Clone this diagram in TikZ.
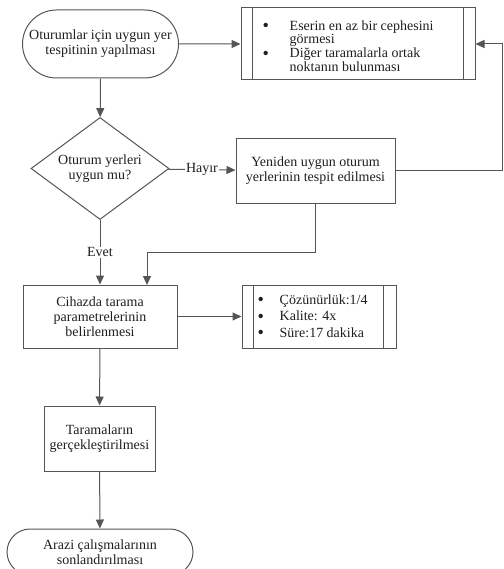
\documentclass[tikz,border=0pt]{standalone}
\usepackage{fontspec}
\setmainfont{Liberation Serif}
\usetikzlibrary{shapes.misc,shapes.geometric,arrows.meta,calc}
\definecolor{ln}{HTML}{555555}
\definecolor{tx}{HTML}{1E1E1E}
\newcommand{\blt}{\raisebox{-1.5pt}{\scalebox{1.3}{•}}}
\begin{document}
\begin{tikzpicture}[x=1pt,y=-1pt,
  every node/.style={text=tx, font=\fontsize{14}{15}\selectfont, inner sep=0pt},
  shapebase/.style={draw=ln, line width=1pt, align=center},
  procbox/.style={shapebase, rectangle},
  termbox/.style={shapebase, rounded rectangle},
  decbox/.style={shapebase, diamond, aspect=1.35},
  conn/.style={draw=ln, line width=1pt, -{Triangle[length=9pt,width=8pt]}},
  plain/.style={draw=ln, line width=1pt},
  lbl/.style={fill=white, inner sep=1pt}
]
\useasboundingbox (0,0) rectangle (503,569);

\node[termbox, minimum width=156pt, minimum height=68pt] (start) at (100.5,44) {Oturumlar için uygun yer\\tespitinin yapılması};

\node[procbox, minimum width=234pt, minimum height=72pt] (box1) at (358,44) {};
\draw[plain] ([xshift=12pt]box1.north west) -- ([xshift=12pt]box1.south west);
\draw[plain] ([xshift=-12pt]box1.north east) -- ([xshift=-12pt]box1.south east);
\node[anchor=west, align=left, font=\fontsize{14}{13.8}\selectfont] (box1txt) at ([xshift=22pt,yshift=-2pt]box1.west)
  {\makebox[27pt][l]{\blt}Eserin en az bir cephesini\\\hspace*{27pt}görmesi\\\makebox[27pt][l]{\blt}Diğer taramalarla ortak\\\hspace*{27pt}noktanın bulunması};

\node[decbox, minimum width=138pt, minimum height=102pt] (dec) at (100,168.5) {Oturum yerleri\\uygun mu?};

\node[procbox, minimum width=159pt, minimum height=64pt] (yen) at (315.5,171) {Yeniden uygun oturum\\yerlerinin tespit edilmesi};

\node[procbox, minimum width=154pt, minimum height=63pt] (cih) at (100,316.5) {Cihazda tarama\\parametrelerinin\\belirlenmesi};

\node[procbox, minimum width=154pt, minimum height=63pt] (par) at (319,316.5) {};
\draw[plain] ([xshift=12pt]par.north west) -- ([xshift=12pt]par.south west);
\draw[plain] ([xshift=-13pt]par.north east) -- ([xshift=-13pt]par.south east);
\node[anchor=west, align=left, font=\fontsize{14}{16.5}\selectfont] (partxt) at ([xshift=16pt]par.west)
  {\makebox[22pt][l]{\blt}Çözünürlük:1/4\\\makebox[22pt][l]{\blt}Kalite: 4x\\\makebox[22pt][l]{\blt}Süre:17 dakika};

\node[procbox, minimum width=111pt, minimum height=65pt] (tar) at (99.5,438.5) {Taramaların\\gerçekleştirilmesi};

\node[termbox, minimum width=186pt, minimum height=46pt] (end) at (100,552) {Arazi çalışmalarının\\sonlandırılması};

\coordinate (r1) at (502.5,171);
\coordinate (r2) at (502.5,44);
\coordinate (mid) at (315.5,252);
\coordinate (cin) at (147,285);

\draw[conn] (start) -- (box1);
\draw[conn] (yen.east) -- (r1) -- (r2) -- (box1.east);
\draw[conn] (start) -- (dec);
\draw[conn] (dec) -- node[lbl] {Hayır} (yen);
\draw[conn] (dec) -- node[lbl, pos=0.5] {Evet} (cih);
\draw[conn] (yen.south) -- (mid) -| (cin);
\draw[conn] (cih) -- (par);
\draw[conn] (cih) -- (tar);
\draw[conn] (tar) -- (end);
\end{tikzpicture}
\end{document}
